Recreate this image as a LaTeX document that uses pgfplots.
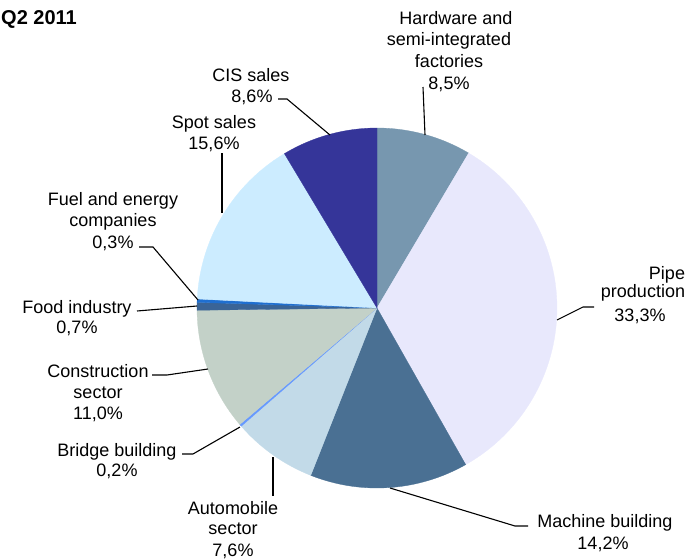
\documentclass[border=0pt]{standalone}
\usepackage{pgfplots}
\pgfplotsset{compat=1.18}
\usepackage{pgfplotstable}
\usepackage{fontspec}
\setmainfont{Liberation Sans}
\definecolor{cHW}{HTML}{7797AF}
\definecolor{cPipe}{HTML}{E8E8FC}
\definecolor{cMach}{HTML}{4A7093}
\definecolor{cAuto}{HTML}{C2DAE8}
\definecolor{cBridge}{HTML}{6699FF}
\definecolor{cConst}{HTML}{C3D1C8}
\definecolor{cFood}{HTML}{3A6496}
\definecolor{cFuel}{HTML}{1F6FD0}
\definecolor{cSpot}{HTML}{CCECFF}
\definecolor{cCIS}{HTML}{353599}
\tikzset{lab/.style={font=\fontsize{18}{21}\selectfont, inner sep=0pt, anchor=base}}
\pgfplotstableread{
label value color
Hardware 8.5 cHW
Pipe 33.3 cPipe
Machine 14.2 cMach
Automobile 7.6 cAuto
Bridge 0.2 cBridge
Construction 11.0 cConst
Food 0.7 cFood
Fuel 0.3 cFuel
Spot 15.6 cSpot
CIS 8.6 cCIS
}\piedata
\begin{document}
\begin{tikzpicture}
\begin{axis}[
  scale only axis, width=689pt, height=560pt,
  xmin=0, xmax=689, ymin=0, ymax=560, y dir=reverse,
  hide axis, clip=false,
]
\pgfplotstablegetrowsof{\piedata}
\pgfmathtruncatemacro\N{\pgfplotsretval-1}
\def\cum{0}
\pgfplotsforeachungrouped \i in {0,...,\N}{%
  \pgfplotstablegetelem{\i}{value}\of\piedata \let\v\pgfplotsretval
  \pgfplotstablegetelem{\i}{color}\of\piedata \let\c\pgfplotsretval
  \pgfmathsetmacro\a{90-3.6*\cum}%
  \pgfmathsetmacro\b{90-3.6*(\cum+\v)}%
  \pgfmathsetmacro\cum{\cum+\v}%
  \edef\temp{\noexpand\addplot[fill=\c, draw=\c, line width=0.3pt, domain=\b:\a, samples=80] ({377+180*cos(x)},{308-180*sin(x)}) -- (axis cs:377,308) -- cycle;}%
  \temp
}
% leader lines
\addplot[black, line width=1.1pt] coordinates {(423,87) (425,135)};
\addplot[black, line width=1.1pt] coordinates {(557,320) (583,307) (594,307)};
\addplot[black, line width=1.1pt] coordinates {(390,488) (515,526) (528,526)};
\addplot[black, line width=1.1pt] coordinates {(273,457) (273,496)};
\addplot[black, line width=1.1pt] coordinates {(182,454) (193,454) (240,427)};
\addplot[black, line width=1.1pt] coordinates {(152,375) (167,375) (208,369)};
\addplot[black, line width=1.1pt] coordinates {(137,311) (197,306)};
\addplot[black, line width=1.1pt] coordinates {(139,247) (153,247) (198,300)};
\addplot[black, line width=1.1pt] coordinates {(222,153) (222,213)};
\addplot[black, line width=1.1pt] coordinates {(278,99) (287,99) (330,135)};
% labels (baselines)
\node[lab] at (456,24) {Hardware and};
\node[lab] at (449,45) {semi-integrated};
\node[lab] at (449,67) {factories};
\node[lab] at (449,89) {8,5\%};
\node[lab] at (667,279) {Pipe};
\node[lab] at (643,297) {production};
\node[lab] at (640,321) {33,3\%};
\node[lab] at (605,527) {Machine building};
\node[lab] at (603,549) {14,2\%};
\node[lab] at (233,514) {Automobile};
\node[lab] at (233,534) {sector};
\node[lab] at (233,556) {7,6\%};
\node[lab] at (117,456) {Bridge building};
\node[lab] at (117,476) {0,2\%};
\node[lab] at (98,377) {Construction};
\node[lab] at (98,398) {sector};
\node[lab] at (98,419) {11,0\%};
\node[lab] at (77,313) {Food industry};
\node[lab] at (77,333) {0,7\%};
\node[lab] at (113,205) {Fuel and energy};
\node[lab] at (113,226) {companies};
\node[lab] at (113,248) {0,3\%};
\node[lab] at (214,128) {Spot sales};
\node[lab] at (214,149) {15,6\%};
\node[lab] at (251,81) {CIS sales};
\node[lab] at (252,102) {8,6\%};
\node[anchor=west, inner sep=0pt, font=\fontsize{20}{24}\selectfont\bfseries] at (1,19) {Q2 2011};
\end{axis}
\pgfresetboundingbox
\path[use as bounding box] (0,0) rectangle (689pt,560pt);
\end{tikzpicture}
\end{document}
